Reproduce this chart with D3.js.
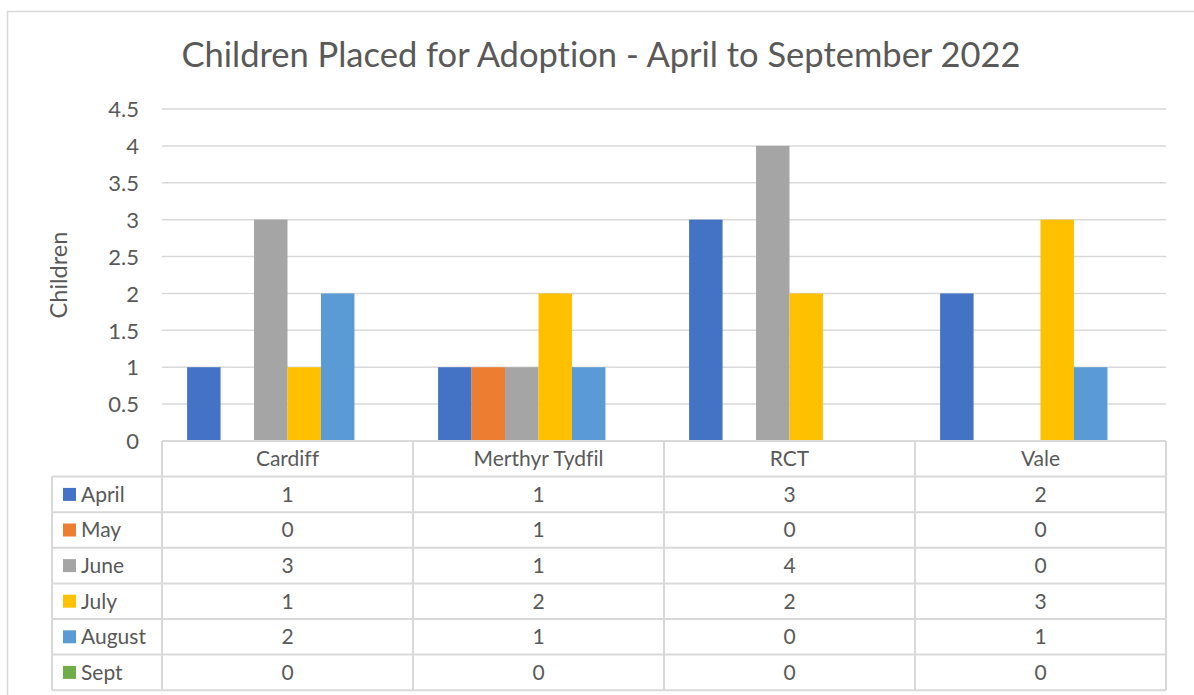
<!DOCTYPE html>
<html><head><meta charset="utf-8">
<script src="https://cdn.jsdelivr.net/npm/d3@7"></script>
<style>body{margin:0;background:#fff}svg{display:block}text{font-family:Lato,"Open Sans",sans-serif;fill:#595959;font-variant-ligatures:none;font-feature-settings:"liga" 0,"dlig" 0}</style>
</head><body><svg id="c" width="1194" height="695"></svg>
<script>
const title = "Children Placed for Adoption - April to September 2022";
const categories = ["Cardiff", "Merthyr Tydfil", "RCT", "Vale"];
const months = ["April", "May", "June", "July", "August", "Sept"];
const colors = ["#4472C4", "#ED7D31", "#A5A5A5", "#FFC000", "#5B9BD5", "#70AD47"];
const april = [1, 1, 3, 2];
const may = [0, 1, 0, 0];
const june = [3, 1, 4, 0];
const july = [1, 2, 2, 3];
const august = [2, 1, 0, 1];
const sept = [0, 0, 0, 0];
const yTicks = [0, 0.5, 1, 1.5, 2, 2.5, 3, 3.5, 4, 4.5];
const yTitle = "Children";
const series = [april, may, june, july, august, sept];

(function () {
const svg = d3.select("#c");
svg.append("rect").attr("x", 7.5).attr("y", 11.5).attr("width", 1200).attr("height", 700)
  .attr("fill", "none").attr("stroke", "#D9D9D9").attr("stroke-width", 1.5);

const pl = 162, pr = 1166, pt = 109, pb = 441;
const xc = d3.scaleBand().domain(categories).range([pl, pr]);
const y = d3.scaleLinear().domain([0, 4.5]).range([pb, pt]);

svg.append("text").attr("x", 601).attr("y", 67).attr("text-anchor", "middle")
  .style("font-size", "34.5px").text(title);

svg.append("g").selectAll("line").data(yTicks.filter(d => d > 0)).join("line")
  .attr("x1", pl).attr("x2", pr).attr("y1", d => y(d)).attr("y2", d => y(d))
  .attr("stroke", "#D9D9D9").attr("stroke-width", 1.5);

const yAxis = d3.axisLeft(y).tickValues(yTicks).tickSize(0).tickPadding(0).tickFormat(d => String(d));
const ga = svg.append("g").attr("transform", `translate(${pl - 23},0)`).call(yAxis);
ga.select(".domain").remove();
ga.selectAll("text").style("font-size", "22px").style("font-family", "Lato, sans-serif").attr("fill", "#595959").attr("dy", "0.35em");

svg.append("text").attr("transform", `translate(67,275) rotate(-90)`).attr("text-anchor", "middle")
  .style("font-size", "23.5px").text(yTitle);

const catW = xc.bandwidth();
const g = svg.append("g");
categories.forEach((c, ci) => {
  const cx = xc(c) + catW * 0.1;
  const bx = d3.scaleBand().domain(months).range([cx, cx + catW * 0.8]);
  g.selectAll(null).data(series.map((s, si) => ({m: months[si], v: s[ci], col: colors[si]}))).join("rect")
    .attr("x", d => bx(d.m)).attr("width", bx.bandwidth())
    .attr("y", d => y(d.v)).attr("height", d => y(0) - y(d.v)).attr("fill", d => d.col);
});

const rowTop = 441, rowH = 35.6, tableLeft = 52;
const lc = "#D9D9D9";
const fs = "21px";
const tg = svg.append("g");
tg.append("line").attr("x1", pl).attr("x2", pr).attr("y1", rowTop).attr("y2", rowTop).attr("stroke", lc).attr("stroke-width", 2);
for (let r = 1; r <= months.length + 1; r++) {
  tg.append("line").attr("x1", tableLeft).attr("x2", pr).attr("y1", rowTop + r * rowH).attr("y2", rowTop + r * rowH).attr("stroke", lc).attr("stroke-width", 2);
}
tg.append("line").attr("x1", tableLeft).attr("x2", tableLeft).attr("y1", rowTop + rowH).attr("y2", rowTop + 7 * rowH).attr("stroke", lc).attr("stroke-width", 2);
[...categories.map(c => xc(c)), pr].forEach(xx => {
  tg.append("line").attr("x1", xx).attr("x2", xx).attr("y1", rowTop).attr("y2", rowTop + 7 * rowH).attr("stroke", lc).attr("stroke-width", 2);
});
tg.selectAll(null).data(categories).join("text")
  .attr("x", d => xc(d) + catW / 2).attr("y", rowTop + rowH / 2).attr("dy", "0.35em")
  .attr("text-anchor", "middle").style("font-size", fs).text(d => d);
months.forEach((m, si) => {
  const cy = rowTop + (si + 1) * rowH + rowH / 2;
  tg.append("rect").attr("x", 63).attr("y", cy - 6.5).attr("width", 13).attr("height", 13).attr("fill", colors[si]);
  tg.append("text").attr("x", 81).attr("y", cy).attr("dy", "0.35em").style("font-size", fs).text(m);
  tg.selectAll(null).data(categories).join("text")
    .attr("x", d => xc(d) + catW / 2).attr("y", cy).attr("dy", "0.35em")
    .attr("text-anchor", "middle").style("font-size", fs).text((d, ci) => series[si][ci]);
});
})();
</script></body></html>
